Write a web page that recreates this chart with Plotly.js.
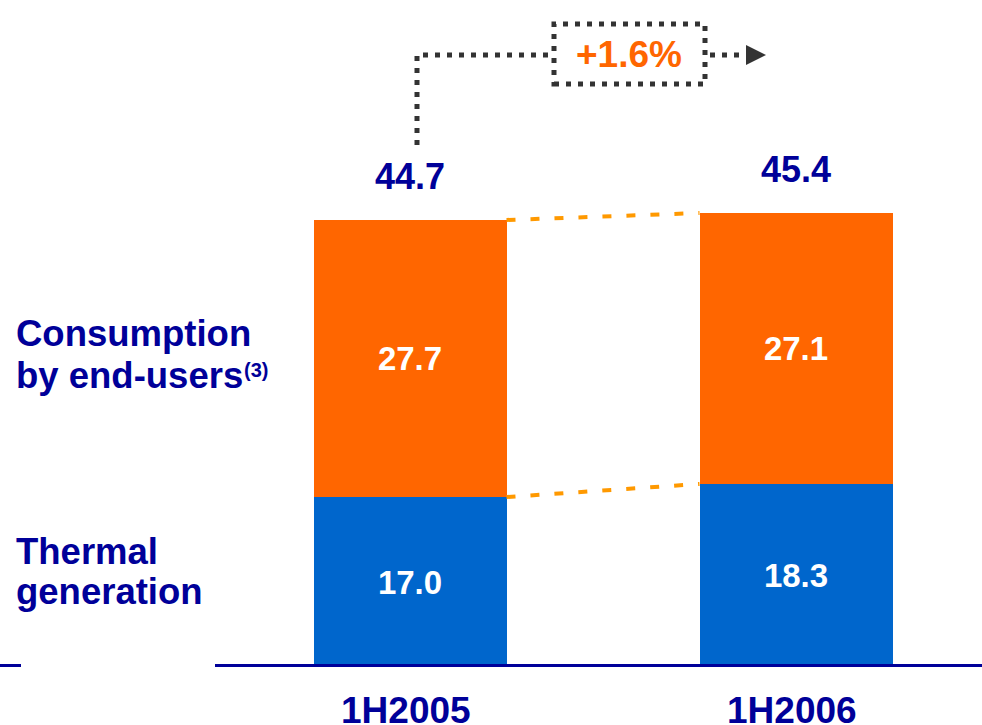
<!DOCTYPE html>
<html>
<head>
<meta charset="utf-8">
<script src="https://cdn.plot.ly/plotly-3.0.1.min.js"></script>
<style>
  html, body { margin: 0; padding: 0; background: #ffffff; }
  #chart { width: 982px; height: 725px; }
</style>
</head>
<body>
<div id="chart"></div>
<script>
// Electricity balance by half-year (TWh)
const categories = ['1H2005', '1H2006'];
const thermalGeneration = [17.0, 18.3];
const endUserConsumption = [27.7, 27.1];
const totals = [44.7, 45.4];
const growthLabel = '+1.6%';
const rowLabels = [
  ['Consumption', 'by end-users'],
  ['Thermal', 'generation']
];
const footnoteMark = '(3)';

const NAVY = '#000099';
const ORANGE = '#FF6600';
const BLUE = '#0066CC';
const DASH_ORANGE = '#FF9900';
const GREY = '#333333';
const FONT = 'Liberation Sans, Arial, Helvetica, sans-serif';

const W = 982, H = 725, PLOT_H = 667;
// pixel -> paper helpers for decorative callout geometry
const px = v => v / W;
const py = v => (PLOT_H - v) / PLOT_H;

const fmt = v => v.toFixed(1);
const BAR_W = 0.5;

const barText = { family: FONT, size: 33, color: '#ffffff', weight: 'bold' };

const traces = [
  {
    type: 'bar',
    name: 'Thermal generation',
    x: categories,
    y: thermalGeneration,
    width: categories.map(() => BAR_W),
    marker: { color: BLUE, line: { width: 0 } },
    text: thermalGeneration.map(fmt),
    textposition: 'inside',
    insidetextanchor: 'middle',
    textangle: 0,
    textfont: barText,
    hoverinfo: 'skip'
  },
  {
    type: 'bar',
    name: 'Consumption by end-users',
    x: categories,
    y: endUserConsumption,
    width: categories.map(() => BAR_W),
    marker: { color: ORANGE, line: { width: 0 } },
    text: endUserConsumption.map(fmt),
    textposition: 'inside',
    insidetextanchor: 'middle',
    textangle: 0,
    textfont: barText,
    hoverinfo: 'skip'
  }
];

const annotations = [];

// totals above each stack
categories.forEach((c, i) => {
  annotations.push({
    x: c, y: totals[i], xref: 'x', yref: 'y',
    text: '<b>' + fmt(totals[i]) + '</b>',
    showarrow: false, yanchor: 'middle', yshift: 44,
    font: { family: FONT, size: 36, color: NAVY }
  });
  // category labels under the baseline
  annotations.push({
    x: c, y: 0, xref: 'x', yref: 'paper',
    text: '<b>' + c + '</b>',
    showarrow: false, yanchor: 'middle', yshift: -43, xshift: -4,
    font: { family: FONT, size: 37, color: NAVY }
  });
});

// row labels on the left
const rowBaselines = [[333, 375], [551, 591]];
rowLabels.forEach((lines, r) => {
  lines.forEach((t, k) => {
    annotations.push({
      x: px(14), y: py(rowBaselines[r][k]), xref: 'paper', yref: 'paper',
      text: '<b>' + t + '</b>',
      showarrow: false, xanchor: 'left', yanchor: 'middle', align: 'left',
      font: { family: FONT, size: 36.5, color: NAVY }
    });
  });
});
// footnote marker beside "by end-users"
annotations.push({
  x: px(242), y: py(370), xref: 'paper', yref: 'paper',
  text: '<b>' + footnoteMark + '</b>',
  showarrow: false, xanchor: 'left', yanchor: 'middle',
  font: { family: FONT, size: 20, color: NAVY }
});

// growth callout text
annotations.push({
  x: px(629), y: py(55), xref: 'paper', yref: 'paper',
  text: '<b>' + growthLabel + '</b>',
  showarrow: false, xanchor: 'center', yanchor: 'middle',
  font: { family: FONT, size: 37, color: ORANGE }
});

const dotted = { color: GREY, width: 5, dash: '5px,7px' };
const connector = { color: DASH_ORANGE, width: 4, dash: '9px,15px' };
const shapes = [
  // dashed connectors between stack levels
  {
    type: 'line', xref: 'x', yref: 'y', layer: 'above',
    x0: 0 + BAR_W / 2, x1: 1 - BAR_W / 2,
    y0: totals[0], y1: totals[1],
    line: connector
  },
  {
    type: 'line', xref: 'x', yref: 'y', layer: 'above',
    x0: 0 + BAR_W / 2, x1: 1 - BAR_W / 2,
    y0: thermalGeneration[0], y1: thermalGeneration[1],
    line: connector
  },
  // baseline
  {
    type: 'line', xref: 'paper', yref: 'y', layer: 'above',
    x0: px(215), x1: 1, y0: 0, y1: 0,
    line: { color: NAVY, width: 6 }
  },
  {
    type: 'line', xref: 'paper', yref: 'y', layer: 'above',
    x0: 0, x1: px(21), y0: 0, y1: 0,
    line: { color: NAVY, width: 6 }
  },
  // growth callout: elbow, box and arrow
  {
    type: 'path', xref: 'paper', yref: 'paper',
    path: `M ${px(417)} ${py(145)} L ${px(417)} ${py(55)} L ${px(552)} ${py(55)}`,
    line: dotted
  },
  {
    type: 'rect', xref: 'paper', yref: 'paper',
    x0: px(554), x1: px(705), y0: py(84), y1: py(24),
    line: dotted, fillcolor: 'rgba(0,0,0,0)'
  },
  {
    type: 'line', xref: 'paper', yref: 'paper',
    x0: px(710), x1: px(746), y0: py(55), y1: py(55),
    line: dotted
  },
  {
    type: 'path', xref: 'paper', yref: 'paper',
    path: `M ${px(746)} ${py(45)} L ${px(766)} ${py(55)} L ${px(746)} ${py(65)} Z`,
    fillcolor: GREY, line: { color: GREY, width: 0 }
  }
];

const layout = {
  width: W, height: H,
  margin: { l: 0, r: 0, t: 0, b: H - PLOT_H, pad: 0 },
  paper_bgcolor: '#ffffff', plot_bgcolor: '#ffffff',
  barmode: 'stack',
  showlegend: false,
  xaxis: {
    type: 'category',
    range: [-410 / 386, 1 + 186 / 386],
    showgrid: false, zeroline: false, showline: false,
    showticklabels: false, ticks: ''
  },
  yaxis: {
    range: [0, PLOT_H / 10],
    showgrid: false, zeroline: false, showline: false,
    showticklabels: false, ticks: ''
  },
  annotations: annotations,
  shapes: shapes,
  font: { family: FONT }
};

Plotly.newPlot('chart', traces, layout, { staticPlot: true, displayModeBar: false });
</script>
</body>
</html>
